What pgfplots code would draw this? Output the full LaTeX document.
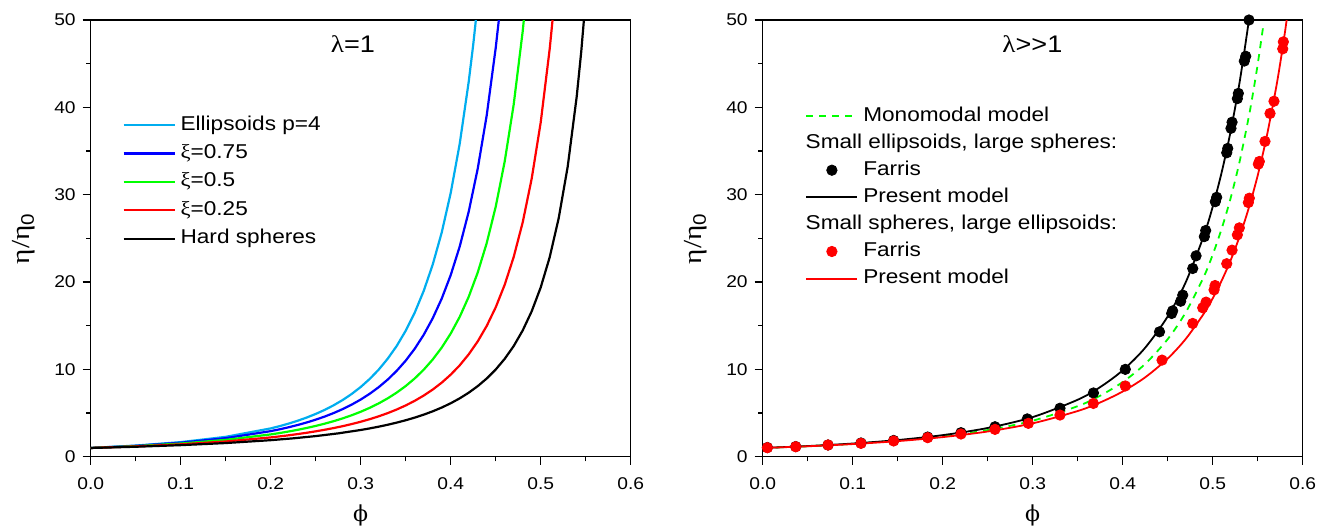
\documentclass[border=0pt]{standalone}
\usepackage{fontspec}
\setmainfont{Liberation Sans}[FakeStretch=1.13]
\newfontfamily\grk{Liberation Serif}[FakeStretch=1.13]
\newfontfamily\phif{DejaVu Serif}
\usepackage{pgfplots}
\pgfplotsset{compat=1.18}
\pgfplotsset{
  dotlegend/.style={legend image code/.code={\draw[##1] plot coordinates {(12.75pt,0pt)};}},
  myax/.style={
    scale only axis, width=270pt, height=218.35pt,
    anchor=south west,
    xmin=0, xmax=0.6, ymin=0, ymax=50,
    xtick={0,0.1,0.2,0.3,0.4,0.5,0.6},
    ytick={0,10,20,30,40,50},
    minor x tick num=1, minor y tick num=1,
    tick pos=left, tick align=outside,
    major tick length=4pt, minor tick length=2.3pt,
    axis line style={line width=0.6pt},
    every tick/.style={line width=0.6pt, black},
    /pgf/number format/assume math mode=true,
    xticklabel style={/pgf/number format/.cd, fixed, fixed zerofill, precision=1, /tikz/.cd, yshift=-3pt},
    yticklabel style={/pgf/number format/.cd, fixed, precision=0},
    tick label style={font=\fontsize{8.5}{10}\selectfont},
    every axis y label/.style={at={(axis description cs:-0.124,0.5)}, rotate=90, anchor=center, font=\fontsize{13}{14}\selectfont},
    every axis x label/.style={at={(axis description cs:0.5,-0.1335)}, anchor=center, font=\fontsize{11}{12}\selectfont},
    ylabel={{\grk η/η}\textsubscript{0}},
    xlabel={{\phif ϕ}},
    legend cell align=left,
    legend image code/.code={\draw[##1] (0pt,0pt) -- (25.5pt,0pt);},
  },
}
\begin{document}
\begin{tikzpicture}
\begin{axis}[myax, at={(0pt,0pt)},
  legend style={draw=none, fill=none, at={(axis description cs:0.058,0.783)}, anchor=north west,
    font=\fontsize{10}{12}\selectfont, inner xsep=0pt, inner ysep=0pt, row sep=4.2pt,
    nodes={inner sep=0pt, text height=7.5pt, text depth=2.5pt},
    /tikz/every odd column/.append style={column sep=2.5pt}},
  ]
\addplot[cyan, line width=1.1pt] coordinates {(0,1) (0.05,1.273) (0.1,1.670) (0.15,2.274) (0.2,3.241) (0.21,3.501) (0.22,3.792) (0.23,4.118) (0.24,4.483) (0.25,4.896) (0.26,5.361) (0.27,5.891) (0.28,6.494) (0.29,7.185) (0.3,7.981) (0.31,8.900) (0.32,9.968) (0.33,11.22) (0.34,12.68) (0.35,14.42) (0.36,16.49) (0.37,18.98) (0.38,21.99) (0.39,25.66) (0.4,30.19) (0.41,35.82) (0.42,42.92) (0.425,47.15) (0.43,51.96)};
\addlegendentry{Ellipsoids p=4}
\addplot[blue, line width=1.1pt] coordinates {(0,1) (0.05,1.249) (0.1,1.603) (0.15,2.124) (0.2,2.927) (0.21,3.139) (0.22,3.372) (0.23,3.631) (0.24,3.919) (0.25,4.240) (0.26,4.598) (0.27,5.000) (0.28,5.453) (0.29,5.964) (0.3,6.544) (0.31,7.205) (0.32,7.961) (0.33,8.829) (0.34,9.833) (0.35,10.997) (0.36,12.358) (0.37,13.956) (0.38,15.845) (0.39,18.095) (0.4,20.79) (0.41,24.06) (0.42,28.05) (0.43,32.96) (0.44,39.07) (0.45,46.79) (0.455,51.4)};
\addlegendentry{{\grk ξ}=0.75}
\addplot[green, line width=1.1pt] coordinates {(0,1) (0.05,1.214) (0.1,1.509) (0.15,1.929) (0.2,2.551) (0.21,2.711) (0.22,2.887) (0.23,3.079) (0.24,3.291) (0.25,3.524) (0.26,3.783) (0.27,4.069) (0.28,4.389) (0.29,4.746) (0.3,5.146) (0.31,5.596) (0.32,6.105) (0.33,6.682) (0.34,7.339) (0.35,8.092) (0.36,8.958) (0.37,9.960) (0.38,11.126) (0.39,12.492) (0.4,14.10) (0.41,16.01) (0.42,18.31) (0.43,21.08) (0.44,24.45) (0.45,28.61) (0.46,33.80) (0.47,40.33) (0.48,48.71) (0.485,53.8)};
\addlegendentry{{\grk ξ}=0.5}
\addplot[red, line width=1.1pt] coordinates {(0,1) (0.05,1.179) (0.1,1.417) (0.15,1.744) (0.2,2.209) (0.21,2.326) (0.22,2.453) (0.23,2.591) (0.24,2.741) (0.25,2.905) (0.26,3.084) (0.27,3.281) (0.28,3.497) (0.29,3.737) (0.3,4.002) (0.31,4.296) (0.32,4.624) (0.33,4.992) (0.34,5.404) (0.35,5.870) (0.36,6.398) (0.37,6.998) (0.38,7.686) (0.39,8.478) (0.4,9.395) (0.41,10.46) (0.42,11.72) (0.43,13.20) (0.44,14.97) (0.45,17.10) (0.46,19.69) (0.47,22.87) (0.48,26.83) (0.49,31.84) (0.5,38.27) (0.51,46.69) (0.515,51.9)};
\addlegendentry{{\grk ξ}=0.25}
\addplot[black, line width=1.1pt] coordinates {(0,1) (0.05,1.141) (0.1,1.323) (0.15,1.564) (0.2,1.893) (0.225,2.105) (0.25,2.360) (0.275,2.672) (0.3,3.059) (0.31,3.240) (0.32,3.439) (0.33,3.659) (0.34,3.903) (0.35,4.174) (0.36,4.476) (0.37,4.815) (0.38,5.196) (0.39,5.628) (0.4,6.119) (0.41,6.681) (0.42,7.327) (0.43,8.077) (0.44,8.952) (0.45,9.982) (0.46,11.206) (0.47,12.67) (0.48,14.456) (0.49,16.65) (0.5,19.38) (0.51,22.84) (0.52,27.31) (0.53,33.21) (0.54,41.22) (0.545,46.33) (0.55,52.42)};
\addlegendentry{Hard spheres}
\node[font=\fontsize{12}{14}\selectfont] at (axis cs:0.2914,47.2) {{\grk λ}=1};
\end{axis}
\begin{axis}[myax, at={(336pt,0pt)},
  legend style={draw=none, fill=none, at={(axis description cs:0.0785,0.804)}, anchor=north west,
    font=\fontsize{10}{12}\selectfont, inner xsep=0pt, inner ysep=0pt, row sep=3.55pt,
    nodes={inner sep=0pt, text height=7.5pt, text depth=2.5pt},
    /tikz/every odd column/.append style={column sep=2.5pt}},
  ]
\addlegendimage{green, line width=0.9pt, dash pattern=on 3.5pt off 3pt}
\addlegendentry{Monomodal model}
\addlegendimage{empty legend}
\addlegendentry{\hspace*{-28.8pt}Small ellipsoids, large spheres:}
\addlegendimage{black, only marks, mark=*, mark size=2.6pt, dotlegend}
\addlegendentry{Farris}
\addlegendimage{black, line width=0.9pt}
\addlegendentry{Present model}
\addlegendimage{empty legend}
\addlegendentry{\hspace*{-28.8pt}Small spheres, large ellipsoids:}
\addlegendimage{red, only marks, mark=*, mark size=2.6pt, dotlegend}
\addlegendentry{Farris}
\addlegendimage{red, line width=0.9pt}
\addlegendentry{Present model}

\addplot[forget plot, green, line width=0.9pt, dash pattern=on 3.5pt off 3pt, smooth] coordinates {(0,1) (0.05,1.202) (0.1,1.470) (0.15,1.831) (0.2,2.332) (0.25,3.051) (0.3,4.120) (0.35,5.788) (0.375,6.986) (0.4,8.550) (0.425,10.63) (0.45,13.46) (0.47,16.52) (0.49,20.58) (0.5,23.13) (0.51,26.12) (0.52,29.64) (0.53,33.84) (0.54,38.87) (0.545,41.76) (0.55,44.94) (0.556,49.20)};
\addplot[forget plot, black, only marks, mark=*, mark size=2.6pt] coordinates {(0.0052,1.05) (0.0367,1.16) (0.0726,1.34) (0.1092,1.57) (0.1455,1.86) (0.1833,2.25) (0.2203,2.75) (0.2581,3.43) (0.294,4.33) (0.3303,5.55) (0.3675,7.3) (0.4029,10.0) (0.4409,14.3) (0.4544,16.4) (0.4555,16.7) (0.4644,17.8) (0.4667,18.5) (0.4778,21.55) (0.4815,23.0) (0.4907,25.2) (0.4922,25.9) (0.5029,29.2) (0.5044,29.7) (0.5156,34.8) (0.5167,35.3) (0.5203,37.6) (0.5215,38.3) (0.5274,41.0) (0.5285,41.6) (0.5351,45.3) (0.5367,45.85) (0.5403,50.0)};
\addplot[forget plot, black, line width=0.9pt, smooth] coordinates {(0,1) (0.05,1.218) (0.1,1.509) (0.15,1.908) (0.2,2.470) (0.25,3.290) (0.3,4.536) (0.35,6.521) (0.375,7.970) (0.4,9.887) (0.425,12.48) (0.45,16.06) (0.47,19.97) (0.49,25.27) (0.5,28.62) (0.51,32.58) (0.52,37.30) (0.53,42.95) (0.54,49.82) (0.545,53.78)};
\addplot[forget plot, red, only marks, mark=*, mark size=2.6pt] coordinates {(0.0052,1.03) (0.0367,1.14) (0.0726,1.34) (0.1092,1.53) (0.1455,1.80) (0.1833,2.18) (0.2203,2.60) (0.2581,3.13) (0.2952,3.82) (0.3303,4.77) (0.3674,6.1) (0.4029,8.1) (0.4437,11.06) (0.4778,15.26) (0.4889,17.05) (0.4926,17.7) (0.5015,19.1) (0.5026,19.6) (0.5156,22.1) (0.5215,23.65) (0.5274,25.4) (0.5296,26.2) (0.5396,29.1) (0.5407,29.6) (0.5507,33.5) (0.5518,33.8) (0.5581,36.1) (0.5637,39.3) (0.5681,40.7) (0.5778,46.7) (0.5785,47.5)};
\addplot[forget plot, red, line width=0.9pt, smooth] coordinates {(0,1) (0.05,1.194) (0.1,1.448) (0.15,1.785) (0.2,2.245) (0.25,2.888) (0.3,3.822) (0.35,5.231) (0.375,6.213) (0.4,7.465) (0.425,9.089) (0.45,11.24) (0.47,13.48) (0.49,16.37) (0.5,18.13) (0.51,20.17) (0.52,22.51) (0.53,25.25) (0.54,28.45) (0.55,32.20) (0.56,36.66) (0.57,42.00) (0.575,45.04) (0.58,48.41) (0.585,52.08)};
\node[font=\fontsize{12}{14}\selectfont] at (axis cs:0.2997,47.2) {{\grk λ}>{}>1};
\end{axis}
\pgfresetboundingbox
\useasboundingbox (-45.35pt,-35.15pt) rectangle (618.65pt,228.35pt);
\end{tikzpicture}
\end{document}
